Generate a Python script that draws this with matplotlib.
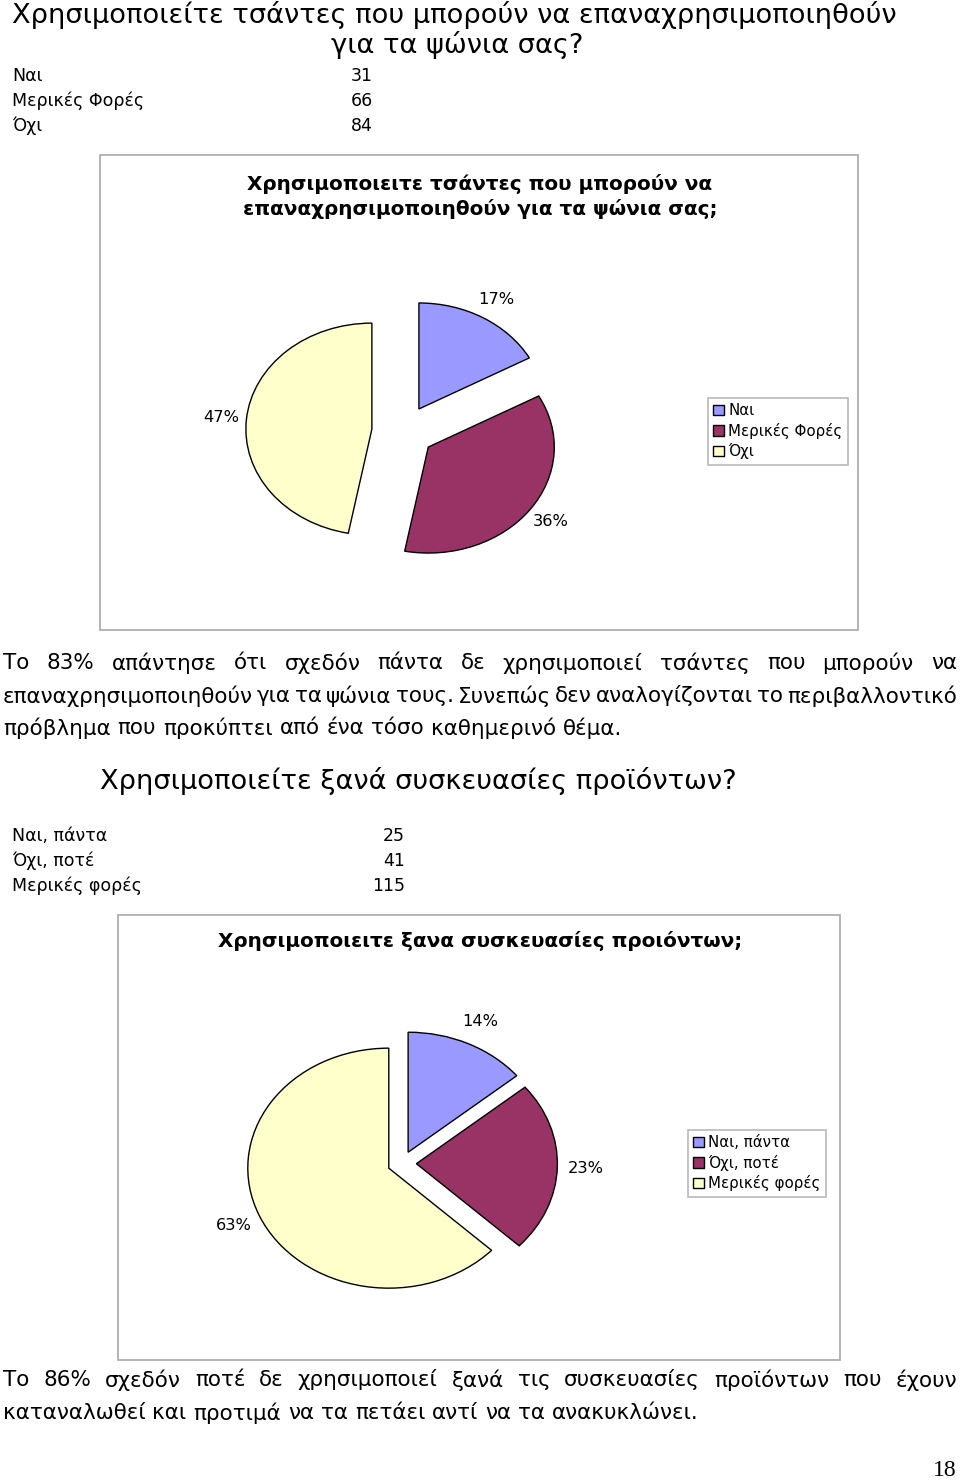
import matplotlib
matplotlib.use("Agg")
import matplotlib.pyplot as plt
from matplotlib.patches import Rectangle

# ---------------- data ----------------
q1_title = "Χρησιμοποιείτε τσάντες που μπορούν να επαναχρησιμοποιηθούν"
q1_title2 = "για τα ψώνια σας?"
q1_labels = ["Ναι", "Μερικές Φορές", "Όχι"]
q1_counts = [31, 66, 84]
q1_chart_pct = [17, 36, 47]
q1_chart_title = ["Χρησιμοποιειτε τσάντες που μπορούν να",
                  "επαναχρησιμοποιηθούν για τα ψώνια σας;"]
q1_text = ["Το 83% απάντησε ότι σχεδόν πάντα δε χρησιμοποιεί τσάντες που μπορούν να",
           "επαναχρησιμοποιηθούν για τα ψώνια τους. Συνεπώς δεν αναλογίζονται το περιβαλλοντικό",
           "πρόβλημα που προκύπτει από ένα τόσο καθημερινό θέμα."]

q2_title = "Χρησιμοποιείτε ξανά συσκευασίες προϊόντων?"
q2_labels = ["Ναι, πάντα", "Όχι, ποτέ", "Μερικές φορές"]
q2_counts = [25, 41, 115]
q2_chart_pct = [14, 23, 63]
q2_chart_title = "Χρησιμοποιειτε ξανα συσκευασίες προιόντων;"
q2_text = ["Το 86% σχεδόν ποτέ δε χρησιμοποιεί ξανά τις συσκευασίες προϊόντων που έχουν",
           "καταναλωθεί και προτιμά να τα πετάει αντί να τα ανακυκλώνει."]
page_number = "18"

colors = ["#9999FF", "#993366", "#FFFFCC"]

# ---------------- layout ----------------
W, H = 960, 1482
FONT = ["DejaVu Sans"]
fig = plt.figure(figsize=(W / 100, H / 100), dpi=100)
fig.patch.set_facecolor("white")


def make_ax():
    a = fig.add_axes([0, 0, 1, 1])
    a.set_axis_off()
    a.patch.set_alpha(0)
    return a


ax = make_ax()
ax.set_xlim(0, W)
ax.set_ylim(0, H)

fig.canvas.draw()
renderer = fig.canvas.get_renderer()


def Y(y):
    return H - y


def fit(s, width, weight="normal"):
    t = ax.text(0, 0, s, fontsize=10, fontweight=weight, family=FONT)
    w = t.get_window_extent(renderer).width
    t.remove()
    return 10 * width / w


def txt(x, y, s, fs, ha="left", weight="normal", family=None):
    return ax.text(x, Y(y), s, fontsize=fs, ha=ha, va="center",
                   fontweight=weight, family=family or FONT)


def justified(line, x0, x1, y, fs, justify=True):
    words = line.split(" ")
    ts = [txt(0, y, w, fs) for w in words]
    widths = [t.get_window_extent(renderer).width for t in ts]
    if justify and len(words) > 1:
        gap = (x1 - x0 - sum(widths)) / (len(words) - 1)
    else:
        a1 = txt(0, y, "a a", fs)
        a2 = txt(0, y, "aa", fs)
        gap = a1.get_window_extent(renderer).width - a2.get_window_extent(renderer).width
        a1.remove(); a2.remove()
    x = x0
    for t, w in zip(ts, widths):
        t.set_x(x)
        x += w + gap


FS_HEAD = fit(q1_title, 883)
FS_TAB = fit(q1_labels[1], 131)
FS_BODY = fit(q1_text[2], 616)
FS_CTITLE = fit(q1_chart_title[0], 465, "bold")
FS_LEG = fit(q1_labels[1], 114)
FS_PCT = fit("17%", 36)

# heading 1 + table
txt(12, 15, q1_title, FS_HEAD)
txt(457, 45, q1_title2, FS_HEAD, ha="center")
for i, (lab, v) in enumerate(zip(q1_labels, q1_counts)):
    y = 76 + 25 * i
    txt(12, y, lab, FS_TAB)
    txt(373, y, str(v), FS_TAB, ha="right")

# chart 1 frame and title
ax.add_patch(Rectangle((100, Y(630)), 758, 475, facecolor="white",
                       edgecolor="#a8a8a8", lw=1.2))
txt(480, 184, q1_chart_title[0], FS_CTITLE, ha="center", weight="bold")
txt(480, 209, q1_chart_title[1], FS_CTITLE, ha="center", weight="bold")


def draw_pie(values, labels, cx, cy, rx, ry, expl, legend_xy):
    sx = rx / ry  # horizontal stretch of the page
    a = make_ax()
    wedges, _, autotexts = a.pie(
        values, colors=colors, startangle=90, counterclock=False,
        explode=[expl * ry] * len(values), center=(cx / sx, Y(cy)), radius=ry,
        autopct=lambda p: f"{p:.0f}%", pctdistance=1.2,
        wedgeprops=dict(edgecolor="black", linewidth=1.0))
    for t in autotexts:
        t.set_fontsize(FS_PCT)
        t.set_family(FONT)
    a.set_aspect("auto")
    a.set_xlim(0, W / sx)
    a.set_ylim(0, H)
    leg = a.legend(wedges, labels, loc="upper left",
                   bbox_to_anchor=(legend_xy[0] / W, 1 - legend_xy[1] / H),
                   bbox_transform=fig.transFigure, frameon=True,
                   fancybox=False, shadow=False, prop=dict(family=FONT, size=FS_LEG),
                   handlelength=0.7, handleheight=0.7, handletextpad=0.3,
                   labelspacing=0.3, borderpad=0.35, borderaxespad=0)
    leg.get_frame().set_edgecolor("#a8a8a8")
    leg.get_frame().set_linewidth(1.2)
    return a


draw_pie(q1_chart_pct, q1_labels, 403, 431.6, 126, 106, 0.248, (708, 398))

# paragraph 1
justified(q1_text[0], 3, 957, 663, FS_BODY)
justified(q1_text[1], 3, 957, 696, FS_BODY)
justified(q1_text[2], 3, 957, 728, FS_BODY, justify=False)

# heading 2 + table
txt(100, 781, q2_title, FS_HEAD)
for i, (lab, v) in enumerate(zip(q2_labels, q2_counts)):
    y = 836 + 25 * i
    txt(12, y, lab, FS_TAB)
    txt(405, y, str(v), FS_TAB, ha="right")

# chart 2 frame and title
ax.add_patch(Rectangle((118, Y(1360)), 722, 445, facecolor="white",
                       edgecolor="#a8a8a8", lw=1.2))
txt(480, 941, q2_chart_title, FS_CTITLE, ha="center", weight="bold")

draw_pie(q2_chart_pct, q2_labels, 402, 1163.3, 141, 120, 0.102, (688, 1130))

# paragraph 2
justified(q2_text[0], 3, 957, 1380, FS_BODY)
justified(q2_text[1], 3, 957, 1413, FS_BODY, justify=False)

txt(957, 1471, page_number, 17, ha="right", family=["Liberation Serif", "DejaVu Serif"])

fig.savefig("out.png", dpi=100, facecolor="white")
